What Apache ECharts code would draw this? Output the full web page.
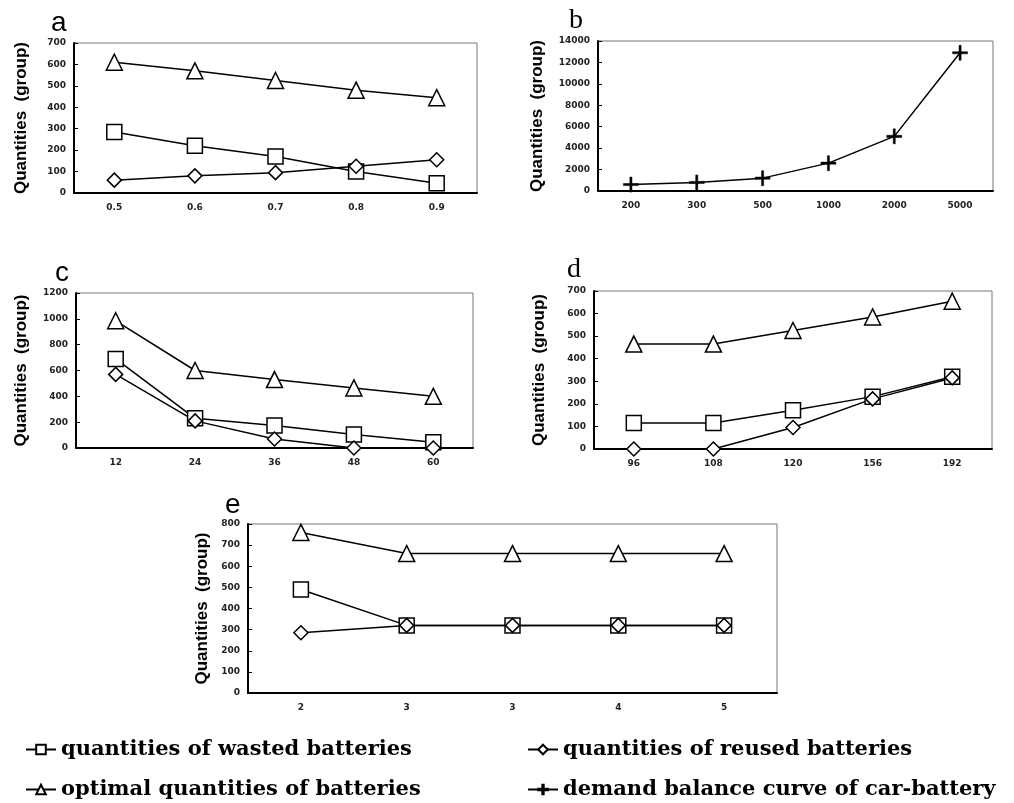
<!DOCTYPE html>
<html>
<head>
<meta charset="utf-8">
<title>battery quantities</title>
<script src="https://cdn.jsdelivr.net/npm/echarts@6/dist/echarts.min.js"></script>
<style>
  html, body { margin: 0; padding: 0; background: #fff; }
  #main { width: 1014px; height: 803px; }
</style>
</head>
<body>
<div id="main"></div>
<script type="text/javascript">
// panel a
var catA = ['0.5', '0.6', '0.7', '0.8', '0.9'];
var wastedA = [285, 220, 170, 100, 45];
var reusedA = [60, 80, 95, 125, 155];
var optimalA = [610, 570, 525, 480, 445];
// panel b
var catB = ['200', '300', '500', '1000', '2000', '5000'];
var demandB = [600, 800, 1200, 2600, 5100, 12900];
// panel c
var catC = ['12', '24', '36', '48', '60'];
var wastedC = [690, 230, 175, 105, 45];
var reusedC = [570, 210, 70, 0, 0];
var optimalC = [985, 600, 530, 465, 400];
// panel d
var catD = ['96', '108', '120', '156', '192'];
var wastedD = [115, 115, 172, 232, 320];
var reusedD = [0, 0, 95, 222, 315];
var optimalD = [465, 465, 525, 585, 655];
// panel e
var catE = ['2', '3', '3', '4', '5'];
var wastedE = [490, 320, 320, 320, 320];
var reusedE = [285, 320, 320, 320, 320];
var optimalE = [760, 660, 660, 660, 660];

var N_WASTED = 'quantities of wasted batteries';
var N_REUSED = 'quantities of reused batteries';
var N_OPTIMAL = 'optimal quantities of batteries';
var N_DEMAND = 'demand balance curve of car-battery';

var PLUS = 'path://M4.3,0h1.4v10h-1.4z M0,4.3h10v1.4h-10z';

var grids = [], xAxes = [], yAxes = [], series = [], titles = [];

function addPanel(letter, letterPos, box, nameGap, cats, yMax, yStep, lines) {
    var i = grids.length;
    grids.push({
        left: box[0], top: box[1], width: box[2], height: box[3],
        show: true, borderColor: '#777', borderWidth: 1
    });
    xAxes.push({
        type: 'category', gridIndex: i, data: cats, boundaryGap: true,
        axisLine: { lineStyle: { color: '#000', width: 2 } },
        axisTick: { inside: true, length: 4, lineStyle: { color: '#000' } },
        axisLabel: { color: '#222', fontSize: 9, fontWeight: 'bold', fontFamily: 'DejaVu Sans', margin: 10 }
    });
    yAxes.push({
        type: 'value', gridIndex: i, min: 0, max: yMax, interval: yStep,
        name: 'Quantities  (group)', nameLocation: 'middle', nameGap: nameGap,
        nameTextStyle: { fontFamily: 'Liberation Sans', fontWeight: 'bold', fontSize: 17, color: '#000' },
        splitLine: { show: false },
        axisLine: { show: true, lineStyle: { color: '#000', width: 2 } },
        axisTick: { show: true, inside: true, length: 4, lineStyle: { color: '#000' } },
        axisLabel: {
            color: '#222', fontSize: 9, fontWeight: 'bold', fontFamily: 'DejaVu Sans', margin: 8,
            formatter: function (v) { return String(v); }
        }
    });
    titles.push({
        text: letter, left: letterPos[0], top: letterPos[1],
        textStyle: { fontFamily: letterPos[2], fontSize: 28, fontWeight: 'normal', color: '#000' }
    });
    lines.forEach(function (l) {
        series.push({
            type: 'line', name: l.name, xAxisIndex: i, yAxisIndex: i, data: l.data,
            symbol: l.symbol, symbolSize: l.size,
            lineStyle: { color: '#000', width: 1.5 },
            itemStyle: l.filled ? { color: '#000', borderColor: '#000', borderWidth: 0.5 }
                                : { color: '#fff', borderColor: '#000', borderWidth: 1.5 },
            animation: false
        });
    });
}

function std(w, r, o) {
    return [
        { name: N_OPTIMAL, data: o, symbol: 'triangle', size: 16 },
        { name: N_WASTED, data: w, symbol: 'rect', size: 15 },
        { name: N_REUSED, data: r, symbol: 'diamond', size: 14 }
    ];
}

addPanel('a', [46, 4, 'Liberation Sans'], [74, 43, 403, 150], 44, catA, 700, 100, std(wastedA, reusedA, optimalA));
addPanel('b', [564, 2, 'Liberation Serif'], [598, 41, 395, 150], 52, catB, 14000, 2000,
    [{ name: N_DEMAND, data: demandB, symbol: PLUS, size: 15, filled: true }]);
addPanel('c', [50, 254, 'Liberation Sans'], [76, 293, 397, 155], 46, catC, 1200, 200, std(wastedC, reusedC, optimalC));
addPanel('d', [562, 251, 'Liberation Serif'], [594, 291, 398, 158], 46, catD, 700, 100, std(wastedD, reusedD, optimalD));
addPanel('e', [220, 486, 'Liberation Sans'], [248, 524, 529, 169], 34, catE, 800, 100, std(wastedE, reusedE, optimalE));

var legendText = { fontFamily: 'DejaVu Serif', fontWeight: 'bold', fontSize: 21, color: '#000' };
function legendAt(name, left, top) {
    return {
        data: [name], left: left, top: top, itemWidth: 30, itemHeight: 12, itemGap: 6,
        textStyle: legendText, selectedMode: false
    };
}

var myChart = echarts.init(document.getElementById('main'));
var option = {
    backgroundColor: '#fff',
    animation: false,
    title: titles,
    grid: grids,
    xAxis: xAxes,
    yAxis: yAxes,
    legend: [
        legendAt(N_WASTED, 20, 734),
        legendAt(N_REUSED, 522, 734),
        legendAt(N_OPTIMAL, 20, 774),
        legendAt(N_DEMAND, 522, 774)
    ],
    series: series
};
myChart.setOption(option);
</script>
</body>
</html>
